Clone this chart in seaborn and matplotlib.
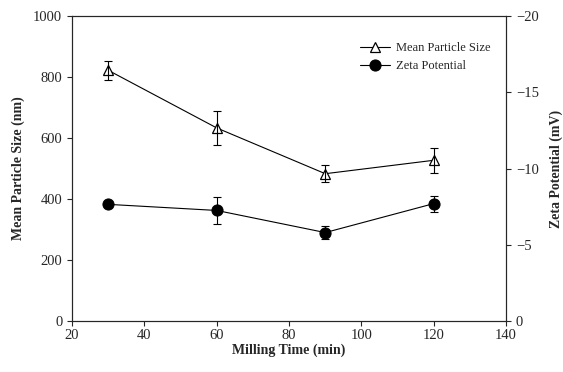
import numpy as np
import pandas as pd
import matplotlib
matplotlib.use("Agg")
import matplotlib.pyplot as plt
import seaborn as sns

# data
milling_time = [30, 60, 90, 120]
particle_size = [822, 633, 483, 527]
particle_err = [31, 56, 28, 41]
zeta_potential = [-7.65, -7.25, -5.8, -7.7]
zeta_err = [0.15, 0.88, 0.4, 0.52]

sns.set_style("ticks")
plt.rcParams['font.family'] = ['Liberation Serif', 'DejaVu Serif']
plt.rcParams['axes.linewidth'] = 0.8

df_size = pd.DataFrame({"time": milling_time, "size": particle_size})
df_zeta = pd.DataFrame({"time": milling_time, "zeta": zeta_potential})

fig = plt.figure(figsize=(5.63, 3.72), dpi=100)
ax = fig.add_axes([0.128, 0.137, 0.771, 0.820])
ax2 = ax.twinx()

sns.lineplot(data=df_size, x="time", y="size", ax=ax, color="black", lw=0.8,
             marker="^", markersize=7, markerfacecolor="white",
             markeredgecolor="black", markeredgewidth=0.9, label="Mean Particle Size",
             legend=False)
ax.errorbar(milling_time, particle_size, yerr=particle_err, fmt="none",
            ecolor="black", elinewidth=0.8, capsize=3, capthick=0.8)

sns.lineplot(data=df_zeta, x="time", y="zeta", ax=ax2, color="black", lw=0.8,
             marker="o", markersize=8, markerfacecolor="black",
             markeredgecolor="black", label="Zeta Potential", legend=False)
ax2.errorbar(milling_time, zeta_potential, yerr=zeta_err, fmt="none",
             ecolor="black", elinewidth=0.8, capsize=3, capthick=0.8)

ax.set_xlim(20, 140)
ax.set_ylim(0, 1000)
ax.set_xticks(np.arange(20, 141, 20))
ax.set_yticks(np.arange(0, 1001, 200))
ax2.set_ylim(0, -20)
ax2.set_yticks([0, -5, -10, -15, -20])

ax.set_xlabel("Milling Time (min)", fontsize=10, fontweight="bold", labelpad=1)
ax.set_ylabel("Mean Particle Size (nm)", fontsize=10, fontweight="bold", labelpad=6)
ax2.set_ylabel("Zeta Potential (mV)", fontsize=10, fontweight="bold", labelpad=8)

for a in (ax, ax2):
    a.tick_params(labelsize=10.5, length=3.5, width=0.8, direction="out")
    for s in a.spines.values():
        s.set_visible(True)
        s.set_linewidth(0.8)
ax.tick_params(axis="x", pad=2)

h1, l1 = ax.get_legend_handles_labels()
h2, l2 = ax2.get_legend_handles_labels()
ax2.legend(h1 + h2, l1 + l2, loc="upper right", bbox_to_anchor=(0.99, 0.95),
           frameon=False, fontsize=9, handlelength=2.4, labelspacing=0.45,
           handletextpad=0.5)

fig.savefig("out.png", dpi=100)
plt.close(fig)
